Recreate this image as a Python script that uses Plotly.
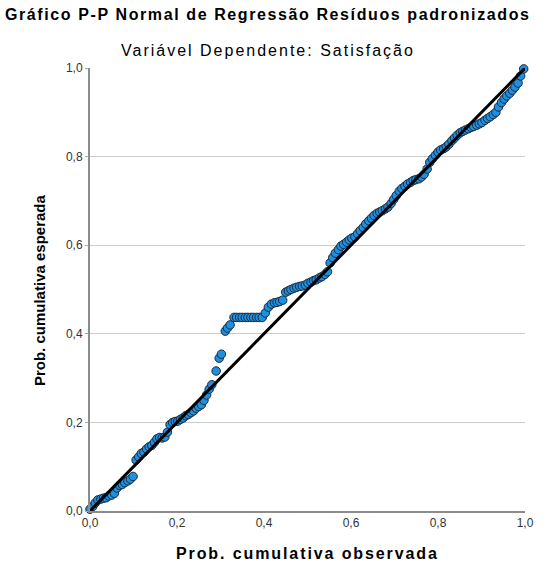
import plotly.graph_objects as go

# Observed vs expected cumulative probabilities of the standardized residuals
prob_observada = [
    0.000, 0.006, 0.012, 0.018, 0.025, 0.031, 0.037, 0.043, 0.050, 0.056,
    0.062, 0.068, 0.074, 0.080, 0.087, 0.093, 0.099, 0.106, 0.112, 0.118,
    0.124, 0.130, 0.136, 0.142, 0.148, 0.154, 0.160, 0.166, 0.172, 0.178,
    0.184, 0.190, 0.196, 0.202, 0.208, 0.214, 0.220, 0.226, 0.232, 0.238,
    0.244, 0.250, 0.256, 0.262, 0.268, 0.274, 0.280, 0.290, 0.297, 0.302,
    0.311, 0.316, 0.322, 0.331, 0.337, 0.344, 0.350, 0.357, 0.363, 0.370,
    0.376, 0.383, 0.389, 0.396, 0.403, 0.410, 0.417, 0.424, 0.430, 0.436,
    0.443, 0.450, 0.456, 0.462, 0.469, 0.475, 0.482, 0.488, 0.495, 0.501,
    0.508, 0.514, 0.520, 0.527, 0.533, 0.540, 0.546, 0.552, 0.558, 0.564,
    0.571, 0.577, 0.583, 0.590, 0.596, 0.602, 0.609, 0.615, 0.621, 0.628,
    0.634, 0.641, 0.647, 0.653, 0.660, 0.666, 0.672, 0.679, 0.685, 0.692,
    0.698, 0.704, 0.711, 0.717, 0.724, 0.730, 0.737, 0.743, 0.749, 0.756,
    0.762, 0.768, 0.775, 0.781, 0.787, 0.794, 0.800, 0.806, 0.813, 0.819,
    0.825, 0.832, 0.838, 0.844, 0.851, 0.857, 0.863, 0.870, 0.876, 0.882,
    0.889, 0.895, 0.901, 0.908, 0.914, 0.920, 0.927, 0.933, 0.939, 0.946,
    0.952, 0.958, 0.965, 0.971, 0.977, 0.984, 0.990, 0.997,
]
prob_esperada = [
    0.004, 0.010, 0.018, 0.025, 0.027, 0.029, 0.030, 0.034, 0.036, 0.040,
    0.052, 0.058, 0.060, 0.064, 0.068, 0.072, 0.078, 0.115, 0.122, 0.130,
    0.133, 0.140, 0.145, 0.148, 0.155, 0.163, 0.166, 0.165, 0.167, 0.178,
    0.195, 0.200, 0.202, 0.203, 0.207, 0.210, 0.215, 0.218, 0.222, 0.226,
    0.232, 0.236, 0.240, 0.250, 0.262, 0.275, 0.285, 0.316, 0.345, 0.354,
    0.406, 0.413, 0.420, 0.437, 0.437, 0.437, 0.437, 0.437, 0.437, 0.437,
    0.437, 0.437, 0.437, 0.437, 0.447, 0.460, 0.467, 0.470, 0.471, 0.473,
    0.476, 0.494, 0.497, 0.500, 0.503, 0.505, 0.507, 0.508, 0.510, 0.514,
    0.517, 0.520, 0.522, 0.526, 0.529, 0.534, 0.540, 0.560, 0.572, 0.582,
    0.590, 0.598, 0.602, 0.607, 0.612, 0.616, 0.619, 0.626, 0.633, 0.640,
    0.648, 0.655, 0.661, 0.667, 0.672, 0.675, 0.678, 0.682, 0.686, 0.694,
    0.703, 0.712, 0.722, 0.728, 0.733, 0.738, 0.742, 0.746, 0.748, 0.750,
    0.754, 0.760, 0.772, 0.787, 0.795, 0.803, 0.810, 0.815, 0.818, 0.822,
    0.828, 0.836, 0.842, 0.848, 0.854, 0.857, 0.860, 0.863, 0.866, 0.868,
    0.871, 0.874, 0.877, 0.882, 0.886, 0.890, 0.895, 0.900, 0.912, 0.922,
    0.930, 0.937, 0.943, 0.950, 0.957, 0.966, 0.982, 0.998,
]

# Reference diagonal
linha_x = [0.0, 1.0]
linha_y = [0.0, 1.0]

y_ticks = [0.0, 0.2, 0.4, 0.6, 0.8, 1.0]
x_ticks = [0.0, 0.2, 0.4, 0.6, 0.8, 1.0]

FONT = "Liberation Sans, Arial, sans-serif"

# Plot-area geometry (pixels)
W, H = 545, 573
L, R, T, B = 90, 11, 68, 62
plot_w = W - L - R
plot_h = H - T - B


def px(pix):
    return (pix - L) / plot_w


def py(pix):
    return (H - B - pix) / plot_h


def spaced(text, spacing):
    return f'<span style="letter-spacing:{spacing}px">{text}</span>'


fig = go.Figure()
fig.add_trace(go.Scatter(
    x=prob_observada, y=prob_esperada, mode="markers",
    marker=dict(size=8.5, color="#1f8fe0", line=dict(color="#1b2a3a", width=1)),
    cliponaxis=False, showlegend=False, hoverinfo="skip",
))
fig.add_trace(go.Scatter(
    x=linha_x, y=linha_y, mode="lines",
    line=dict(color="black", width=3),
    cliponaxis=False, showlegend=False, hoverinfo="skip",
))

fig.update_layout(
    width=W, height=H,
    margin=dict(l=L, r=R, t=T, b=B),
    paper_bgcolor="white", plot_bgcolor="white",
    separators=", ",
    font=dict(family=FONT, size=11, color="#333333"),
    showlegend=False,
    annotations=[
        dict(text="<b>" + spaced("Gráfico P-P Normal de Regressão Resíduos padronizados", 1.6) + "</b>",
             x=px(272), y=py(14), xref="paper", yref="paper", showarrow=False,
             font=dict(family=FONT, size=16, color="black"),
             xanchor="center", yanchor="middle"),
        dict(text=spaced("Variável Dependente: Satisfação", 2.0),
             x=px(272), y=py(51), xref="paper", yref="paper", showarrow=False,
             font=dict(family=FONT, size=16, color="black"),
             xanchor="center", yanchor="middle"),
        dict(text="<b>" + spaced("Prob. cumulativa observada", 1.9) + "</b>",
             x=px(312), y=py(553), xref="paper", yref="paper", showarrow=False,
             font=dict(family=FONT, size=16, color="black"),
             xanchor="center", yanchor="middle"),
        dict(text="<b>Prob. cumulativa esperada</b>",
             x=px(38), y=py(290), xref="paper", yref="paper", showarrow=False,
             textangle=-90,
             font=dict(family=FONT, size=15, color="black"),
             xanchor="center", yanchor="middle"),
    ],
)

fig.update_xaxes(
    range=[0, 1], tickvals=x_ticks, tickformat=".1f",
    showgrid=False, zeroline=False,
    showline=True, linecolor="#8c8c8c", linewidth=2,
    ticks="", tickfont=dict(family=FONT, size=12, color="#333333"),
)
fig.update_yaxes(
    range=[0, 1], tickvals=y_ticks, tickformat=".1f",
    showgrid=True, gridcolor="#cccccc", gridwidth=1, zeroline=False,
    showline=True, linecolor="#8c8c8c", linewidth=2,
    ticks="outside", ticklen=3, tickcolor="#aaaaaa",
    tickfont=dict(family=FONT, size=12, color="#333333"),
)

fig.write_html("out.html")
